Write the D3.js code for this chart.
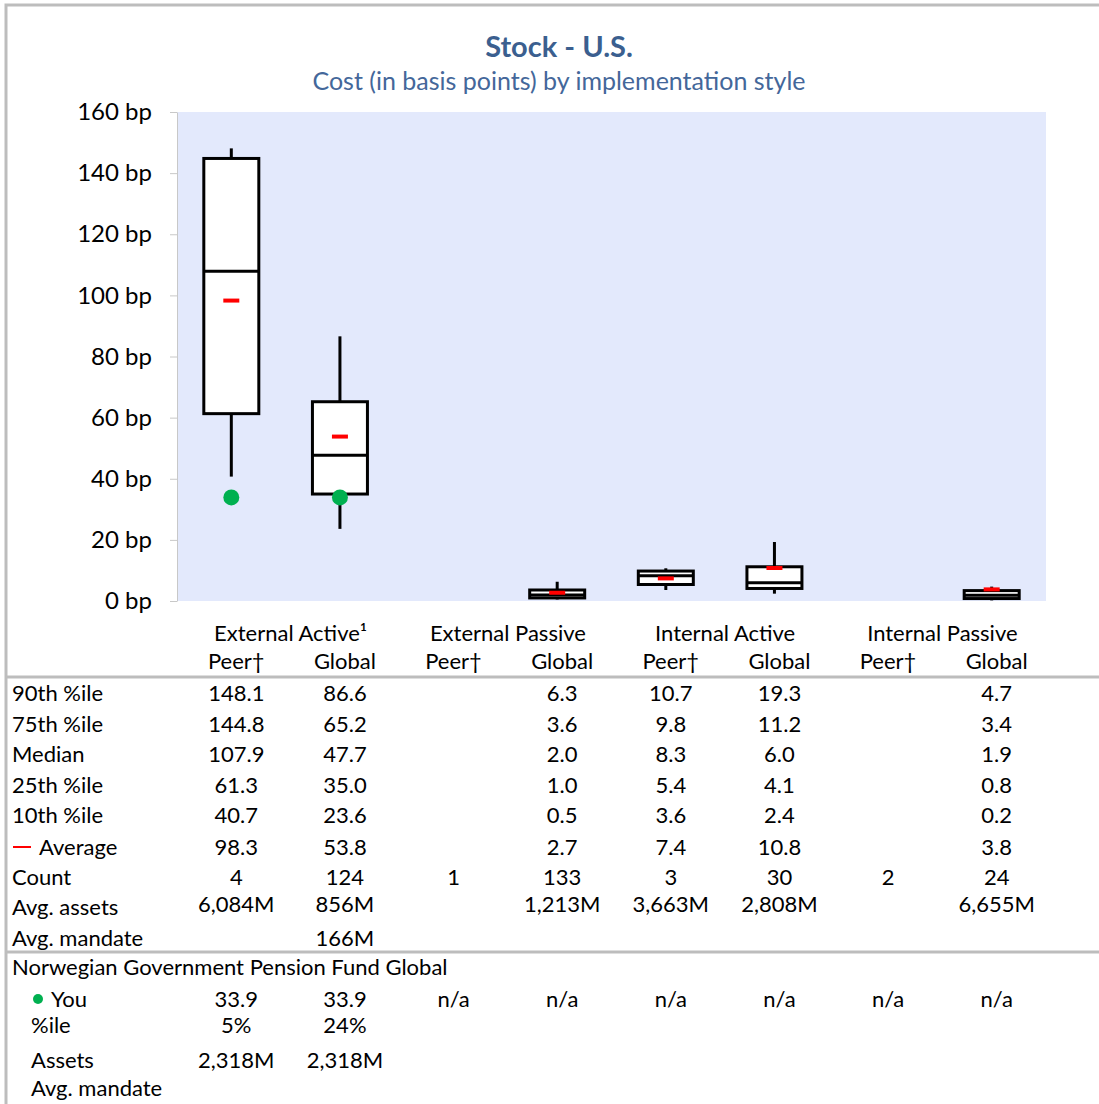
<!DOCTYPE html>
<html lang="en">
<head>
    <meta charset="UTF-8">
    <title>Stock - U.S.</title>
    <script src="https://d3js.org/d3.v7.min.js"></script>
    <style>
        body { margin: 0; background: white; }
        text { font-family: Lato, "Open Sans", sans-serif; }
        .yaxis .domain, .yaxis line { stroke: #c8c8c8; }
        .yaxis text { font-size: 24px; fill: black; }
        .cell { font-size: 22px; fill: black; }
    </style>
</head>
<body>
    <svg id="svg1" width="1099" height="1104"></svg>

    <script>
        // data ---------------------------------------------------
        const groups = ["External Active\u00B9", "External Passive", "Internal Active", "Internal Passive"];
        const subLabels = ["Peer\u2020", "Global"];
        const categories = ["EA Peer", "EA Global", "EP Peer", "EP Global", "IA Peer", "IA Global", "IP Peer", "IP Global"];
        const p90    = [148.1, 86.6, null, 6.3, 10.7, 19.3, null, 4.7];
        const p75    = [144.8, 65.2, null, 3.6, 9.8, 11.2, null, 3.4];
        const median = [107.9, 47.7, null, 2.0, 8.3, 6.0, null, 1.9];
        const p25    = [61.3, 35.0, null, 1.0, 5.4, 4.1, null, 0.8];
        const p10    = [40.7, 23.6, null, 0.5, 3.6, 2.4, null, 0.2];
        const average = [98.3, 53.8, null, 2.7, 7.4, 10.8, null, 3.8];
        const count  = ["4", "124", "1", "133", "3", "30", "2", "24"];
        const avgAssets  = ["6,084M", "856M", "", "1,213M", "3,663M", "2,808M", "", "6,655M"];
        const avgMandate = ["", "166M", "", "", "", "", "", ""];
        const you        = [33.9, 33.9, null, null, null, null, null, null];
        const youPct     = ["5%", "24%", "", "", "", "", "", ""];
        const youAssets  = ["2,318M", "2,318M", "", "", "", "", "", ""];
        const yTicks = [0, 20, 40, 60, 80, 100, 120, 140, 160];

        // svg setup ----------------------------------------------
        const svg = d3.select("#svg1");
        const plot = {left: 177, right: 1046, top: 112, bottom: 601};

        const x = d3.scaleBand().domain(categories).range([plot.left, plot.right]);
        const y = d3.scaleLinear().domain([0, 160]).range([plot.bottom, plot.top]);
        const cx = c => x(c) + x.bandwidth() / 2;
        const tx = c => cx(c) + 5;   // table columns sit slightly right of the boxes

        // outer frame
        svg.append("path")
            .attr("d", "M6,1104 V5 H1099")
            .attr("fill", "none").attr("stroke", "#bdbdbd").attr("stroke-width", 3);

        // titles
        svg.append("text").attr("x", 559).attr("y", 57)
            .attr("text-anchor", "middle").attr("font-size", 29).attr("font-weight", "bold")
            .attr("fill", "#3b5f8f").text("Stock - U.S.");
        svg.append("text").attr("x", 559).attr("y", 90)
            .attr("text-anchor", "middle").attr("font-size", 25)
            .attr("fill", "#44679a").text("Cost (in basis points) by implementation style");

        // plot background
        svg.append("rect")
            .attr("x", plot.left).attr("y", plot.top)
            .attr("width", plot.right - plot.left).attr("height", plot.bottom - plot.top)
            .attr("fill", "#e3e9fc");

        svg.append("g").attr("class", "yaxis")
            .attr("transform", `translate(${plot.left},0)`)
            .call(d3.axisLeft(y).tickValues(yTicks).tickSize(7).tickSizeOuter(0).tickPadding(18)
                .tickFormat(d => d + " bp"))
            .call(g => g.selectAll("text").attr("font-family", "Lato, 'Open Sans', sans-serif"));

        // boxes -----------------------------------------------------
        const boxW = 55;
        const chart = svg.append("g");
        categories.forEach((c, i) => {
            if (p90[i] == null) return;
            const g = chart.append("g");
            g.append("line").attr("x1", cx(c)).attr("x2", cx(c))
                .attr("y1", y(p90[i])).attr("y2", y(p75[i]))
                .attr("stroke", "black").attr("stroke-width", 3);
            g.append("line").attr("x1", cx(c)).attr("x2", cx(c))
                .attr("y1", y(p25[i])).attr("y2", y(p10[i]))
                .attr("stroke", "black").attr("stroke-width", 3);
            g.append("rect").attr("x", cx(c) - boxW / 2).attr("width", boxW)
                .attr("y", y(p75[i])).attr("height", y(p25[i]) - y(p75[i]))
                .attr("fill", "white").attr("stroke", "black").attr("stroke-width", 3);
            g.append("line").attr("x1", cx(c) - boxW / 2).attr("x2", cx(c) + boxW / 2)
                .attr("y1", y(median[i])).attr("y2", y(median[i]))
                .attr("stroke", "black").attr("stroke-width", 3);
            g.append("line").attr("x1", cx(c) - 8).attr("x2", cx(c) + 8)
                .attr("y1", y(average[i])).attr("y2", y(average[i]))
                .attr("stroke", "#ff0000").attr("stroke-width", 4);
        });
        categories.forEach((c, i) => {
            if (you[i] == null) return;
            chart.append("circle").attr("cx", cx(c)).attr("cy", y(you[i])).attr("r", 8)
                .attr("fill", "#00b050");
        });

        // table -------------------------------------------------------
        const table = svg.append("g");
        const cellText = (px, py, t, anchor) => table.append("text").attr("class", "cell")
            .attr("x", px).attr("y", py + 2).attr("text-anchor", anchor || "middle")
            .attr("dominant-baseline", "middle").text(t);

        groups.forEach((gname, j) => {
            const a = categories[j * 2], b = categories[j * 2 + 1];
            cellText((tx(a) + tx(b)) / 2, 633, gname);
            cellText(tx(a), 661, subLabels[0]);
            cellText(tx(b), 661, subLabels[1]);
        });

        table.append("line").attr("x1", 7).attr("x2", 1099).attr("y1", 677).attr("y2", 677)
            .attr("stroke", "#bdbdbd").attr("stroke-width", 3);
        table.append("line").attr("x1", 7).attr("x2", 1099).attr("y1", 952).attr("y2", 952)
            .attr("stroke", "#bdbdbd").attr("stroke-width", 3);

        const fmt = v => v == null ? "" : v.toFixed(1);
        const rows = [
            {label: "90th %ile", y: 693, vals: p90.map(fmt)},
            {label: "75th %ile", y: 724, vals: p75.map(fmt)},
            {label: "Median", y: 754, vals: median.map(fmt)},
            {label: "25th %ile", y: 785, vals: p25.map(fmt)},
            {label: "10th %ile", y: 815, vals: p10.map(fmt)},
            {label: "Average", y: 847, vals: average.map(fmt), dash: true},
            {label: "Count", y: 877, vals: count},
            {label: "Avg. assets", y: 907, vy: 904, vals: avgAssets},
            {label: "Avg. mandate", y: 938, vals: avgMandate}
        ];
        rows.forEach(r => {
            if (r.dash) {
                table.append("line").attr("x1", 13).attr("x2", 31).attr("y1", r.y).attr("y2", r.y)
                    .attr("stroke", "#ff0000").attr("stroke-width", 2);
                cellText(39, r.y, r.label, "start");
            } else {
                cellText(12, r.y, r.label, "start");
            }
            categories.forEach((c, i) => cellText(tx(c), r.vy || r.y, r.vals[i]));
        });

        cellText(12, 967, "Norwegian Government Pension Fund Global", "start");
        table.append("circle").attr("cx", 38).attr("cy", 999).attr("r", 5).attr("fill", "#00b050");
        cellText(51, 999, "You", "start");
        categories.forEach((c, i) => cellText(tx(c), 999, you[i] == null ? "n/a" : you[i].toFixed(1)));
        cellText(31, 1025, "%ile", "start");
        categories.forEach((c, i) => cellText(tx(c), 1025, youPct[i]));
        cellText(31, 1060, "Assets", "start");
        categories.forEach((c, i) => cellText(tx(c), 1060, youAssets[i]));
        cellText(31, 1088, "Avg. mandate", "start");
    </script>
</body>
</html>
